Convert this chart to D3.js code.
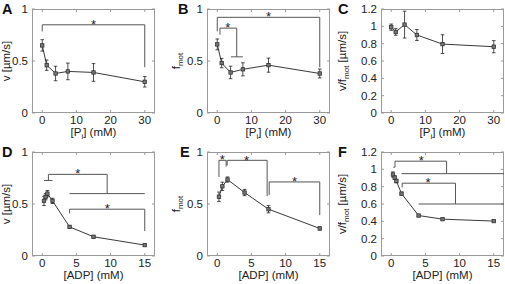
<!DOCTYPE html>
<html>
<head>
<meta charset="utf-8">
<script src="https://cdn.jsdelivr.net/npm/d3@7"></script>
<style>
  body { margin: 0; background: #fff; }
  svg { display: block; font-family: "Liberation Sans", Arial, sans-serif; }
  .tick-label { font-size: 11.5px; fill: #222; }
  .axis-title { font-size: 11.5px; fill: #222; }
  .panel-letter { font-size: 14.5px; font-weight: bold; fill: #111; }
  .frame { fill: none; stroke: #9a9a9a; stroke-width: 1; }
  .tick { stroke: #9a9a9a; stroke-width: 1; }
  .data-line { fill: none; stroke: #222; stroke-width: 0.9; }
  .err { stroke: #222; stroke-width: 0.8; }
  .marker { fill: #777; stroke: #333; stroke-width: 0.8; }
  .sig { fill: none; stroke: #555; stroke-width: 1; }
  .star { font-size: 13px; fill: #222; text-anchor: middle; }
</style>
</head>
<body>
<div id="wrapper"></div>
<script>

// Concentrations (mM)
const piConc = [0, 1.3, 3.9, 7.5, 15, 30];
const adpConc = [0.25, 0.5, 0.75, 1.5, 4, 7.5, 15];
const adpConcE = [0.25, 0.75, 1.5, 4, 7.5, 15];

// A: v vs Pi
const vPi = [0.65, 0.46, 0.38, 0.40, 0.39, 0.30];
const vPiErr = [0.055, 0.05, 0.07, 0.08, 0.085, 0.05];
// B: f_mot vs Pi
const fPi = [0.66, 0.48, 0.39, 0.42, 0.46, 0.38];
const fPiErr = [0.052, 0.045, 0.06, 0.063, 0.068, 0.043];
// C: v/f_mot vs Pi
const rPi = [0.99, 0.935, 1.02, 0.90, 0.795, 0.765];
const rPiErr = [0.036, 0.038, 0.155, 0.063, 0.108, 0.07];
// D: v vs ADP
const vAdp = [0.53, 0.57, 0.60, 0.53, 0.28, 0.185, 0.105];
const vAdpErr = [0.045, 0.03, 0.03, 0.025, 0.01, 0.01, 0.01];
// E: f_mot vs ADP
const fAdp = [0.57, 0.67, 0.735, 0.61, 0.45, 0.265];
const fAdpErr = [0.045, 0.04, 0.025, 0.03, 0.035, 0.015];
// F: v/f_mot vs ADP
const rAdp = [0.94, 0.905, 0.865, 0.72, 0.467, 0.425, 0.403];
const rAdpErr = [0.03, 0.02, 0.02, 0.015, 0.01, 0.01, 0.01];

// Tick labels
const piTicks = [0, 10, 20, 30];
const adpTicks = [0, 5, 10, 15];
const unitTicks = [0, 0.5, 1];
const ratioTicks = [0, 0.2, 0.4, 0.6, 0.8, 1, 1.2];

// Significance brackets (polylines in data units) and star spots
const sigA = [[[0, 0.785], [0, 0.848], [30, 0.848], [30, 0.44]]];
const starsA = [[15, 0.88]];
const sigB = [
  [[0, 0.785], [0, 0.92], [30, 0.92], [30, 0.44]],
  [[0.8, 0.753], [0.8, 0.816], [5.7, 0.816], [5.7, 0.54]],
  [[4, 0.54], [7.5, 0.54]],
];
const starsB = [[15, 0.96], [3.1, 0.86]];
const sigD = [
  [[0.25, 0.726], [1.5, 0.726]],
  [[0.9, 0.726], [0.9, 0.785], [9.5, 0.785], [9.5, 0.6]],
  [[4, 0.6], [15, 0.6]],
  [[4, 0.41], [4, 0.45], [15, 0.45], [15, 0.24]],
];
const starsD = [[5.2, 0.83], [9.5, 0.49]];
const sigE = [
  [[0.25, 0.76], [0.25, 0.92], [1.3, 0.92], [1.3, 0.86]],
  [[1.45, 0.87], [1.45, 0.92], [7.3, 0.92], [7.3, 0.575]],
  [[7.6, 0.585], [7.6, 0.712], [15, 0.712], [15, 0.393]],
];
const starsE = [[0.75, 0.96], [4.3, 0.95], [11.3, 0.75]];
const sigF = [
  [[0.3, 1.025], [0.55, 1.025], [0.55, 1.094], [8.1, 1.094], [8.1, 0.95]],
  [[1.5, 0.95], [16.5, 0.95]],
  [[1.6, 0.79], [1.6, 0.84], [9.4, 0.84], [9.4, 0.6]],
  [[4, 0.6], [16.5, 0.6]],
];
const starsF = [[4.4, 1.14], [5.4, 0.89]];


function drawChart() {

  const dimensions = {
    width: 505,
    height: 284,
    plotWidth: 123,
    plotHeight: 104,
    lefts: [32, 207, 381],
    tops: [9, 152],
  };

  const wrapper = d3.select("#wrapper")
    .append("svg")
      .attr("width", dimensions.width)
      .attr("height", dimensions.height);

  const panels = [
    { letter: "A", col: 0, row: 0, x: piConc, y: vPi, err: vPiErr, xDomain: [-3, 33], yDomain: [0, 1],
      xTicks: piTicks, yTicks: unitTicks, xTitle: "pi", yTitle: "v", sig: sigA, stars: starsA,
      letterX: 2, yTitleX: 6 },
    { letter: "B", col: 1, row: 0, x: piConc, y: fPi, err: fPiErr, xDomain: [-3, 33], yDomain: [0, 1],
      xTicks: piTicks, yTicks: unitTicks, xTitle: "pi", yTitle: "f", sig: sigB, stars: starsB,
      letterX: 178, yTitleX: 176 },
    { letter: "C", col: 2, row: 0, x: piConc, y: rPi, err: rPiErr, xDomain: [-3, 33], yDomain: [0, 1.2],
      xTicks: piTicks, yTicks: ratioTicks, xTitle: "pi", yTitle: "r", sig: [], stars: [],
      letterX: 338, yTitleX: 342 },
    { letter: "D", col: 0, row: 1, x: adpConc, y: vAdp, err: vAdpErr, xDomain: [-1.5, 16.5], yDomain: [0, 1],
      xTicks: adpTicks, yTicks: unitTicks, xTitle: "adp", yTitle: "v", sig: sigD, stars: starsD,
      letterX: 2, yTitleX: 6 },
    { letter: "E", col: 1, row: 1, x: adpConcE, y: fAdp, err: fAdpErr, xDomain: [-1.5, 16.5], yDomain: [0, 1],
      xTicks: adpTicks, yTicks: unitTicks, xTitle: "adp", yTitle: "f", sig: sigE, stars: starsE,
      letterX: 180, yTitleX: 176 },
    { letter: "F", col: 2, row: 1, x: adpConc, y: rAdp, err: rAdpErr, xDomain: [-1.5, 16.5], yDomain: [0, 1.2],
      xTicks: adpTicks, yTicks: ratioTicks, xTitle: "adp", yTitle: "r", sig: sigF, stars: starsF,
      letterX: 338, yTitleX: 342 },
  ];

  panels.forEach(p => drawPanel(wrapper, p, dimensions));
}

function drawPanel(svg, p, dims) {
  const left = dims.lefts[p.col];
  const top = dims.tops[p.row];
  const w = dims.plotWidth;
  const h = dims.plotHeight;

  const xScale = d3.scaleLinear().domain(p.xDomain).range([0, w]);
  const yScale = d3.scaleLinear().domain(p.yDomain).range([h, 0]);

  const bounds = svg.append("g")
      .attr("transform", `translate(${left}, ${top})`);

  const clipId = "clip-" + p.letter;
  bounds.append("clipPath").attr("id", clipId)
    .append("rect").attr("width", w).attr("height", h);

  // ticks on all four sides, pointing inward (matlab box style)
  const tickLen = 3;
  const tickGroup = bounds.append("g");
  p.xTicks.forEach(t => {
    const x = xScale(t);
    tickGroup.append("line").attr("class", "tick")
      .attr("x1", x).attr("x2", x).attr("y1", h).attr("y2", h - tickLen);
    tickGroup.append("line").attr("class", "tick")
      .attr("x1", x).attr("x2", x).attr("y1", 0).attr("y2", tickLen);
  });
  p.yTicks.forEach(t => {
    const y = yScale(t);
    tickGroup.append("line").attr("class", "tick")
      .attr("x1", 0).attr("x2", tickLen).attr("y1", y).attr("y2", y);
    tickGroup.append("line").attr("class", "tick")
      .attr("x1", w).attr("x2", w - tickLen).attr("y1", y).attr("y2", y);
  });

  bounds.append("rect").attr("class", "frame")
    .attr("x", 0.5).attr("y", 0.5).attr("width", w - 1).attr("height", h - 1);

  // tick labels
  bounds.selectAll(".x-label")
    .data(p.xTicks)
    .join("text")
      .attr("class", "tick-label x-label")
      .attr("x", d => xScale(d))
      .attr("y", h + 11)
      .attr("text-anchor", "middle")
      .text(d => d);
  bounds.selectAll(".y-label")
    .data(p.yTicks)
    .join("text")
      .attr("class", "tick-label y-label")
      .attr("x", -4)
      .attr("y", d => yScale(d) + 4)
      .attr("text-anchor", "end")
      .text(d => d);

  // significance brackets
  const sigLine = d3.line().x(d => xScale(d[0])).y(d => yScale(d[1]));
  const sigGroup = bounds.append("g").attr("clip-path", `url(#${clipId})`);
  sigGroup.selectAll(".sig")
    .data(p.sig)
    .join("path")
      .attr("class", "sig")
      .attr("d", sigLine);
  bounds.selectAll(".star")
    .data(p.stars)
    .join("text")
      .attr("class", "star")
      .attr("x", d => xScale(d[0]))
      .attr("y", d => yScale(d[1]) + 8)
      .text("*");

  // data
  const points = p.x.map((x, i) => ({ x, y: p.y[i], e: p.err[i] }));
  const dataLine = d3.line().x(d => xScale(d.x)).y(d => yScale(d.y));
  bounds.append("path").datum(points)
    .attr("class", "data-line")
    .attr("d", dataLine);

  const capW = 1.8;
  const errGroup = bounds.append("g");
  points.forEach(d => {
    const x = xScale(d.x);
    const y0 = yScale(d.y - d.e);
    const y1 = yScale(d.y + d.e);
    errGroup.append("line").attr("class", "err")
      .attr("x1", x).attr("x2", x).attr("y1", y0).attr("y2", y1);
    errGroup.append("line").attr("class", "err")
      .attr("x1", x - capW).attr("x2", x + capW).attr("y1", y0).attr("y2", y0);
    errGroup.append("line").attr("class", "err")
      .attr("x1", x - capW).attr("x2", x + capW).attr("y1", y1).attr("y2", y1);
  });

  const ms = 3.4;
  bounds.selectAll(".marker")
    .data(points)
    .join("rect")
      .attr("class", "marker")
      .attr("x", d => xScale(d.x) - ms / 2)
      .attr("y", d => yScale(d.y) - ms / 2)
      .attr("width", ms)
      .attr("height", ms);

  // x title
  const xt = bounds.append("text")
      .attr("class", "axis-title")
      .attr("x", w / 2)
      .attr("y", h + 23)
      .attr("text-anchor", "middle");
  if (p.xTitle === "pi") {
    xt.append("tspan").text("[P");
    xt.append("tspan").attr("font-size", "8px").attr("dy", 3).text("i");
    xt.append("tspan").attr("dy", -3).text("] (mM)");
  } else {
    xt.text("[ADP] (mM)");
  }

  // y title (rotated)
  const yt = svg.append("text")
      .attr("class", "axis-title")
      .attr("text-anchor", "middle")
      .attr("transform", `translate(${p.yTitleX + 4}, ${top + h / 2}) rotate(-90)`);
  if (p.yTitle === "v") {
    yt.text("v [µm/s]");
  } else if (p.yTitle === "f") {
    yt.append("tspan").text("f");
    yt.append("tspan").attr("font-size", "8px").attr("dy", 3).text("mot");
  } else {
    yt.append("tspan").text("v/f");
    yt.append("tspan").attr("font-size", "8px").attr("dy", 3).text("mot");
    yt.append("tspan").attr("dy", -3).text(" [µm/s]");
  }

  // panel letter
  svg.append("text")
      .attr("class", "panel-letter")
      .attr("x", p.letterX)
      .attr("y", top + 5)
      .text(p.letter);
}

drawChart();
</script>
</body>
</html>
